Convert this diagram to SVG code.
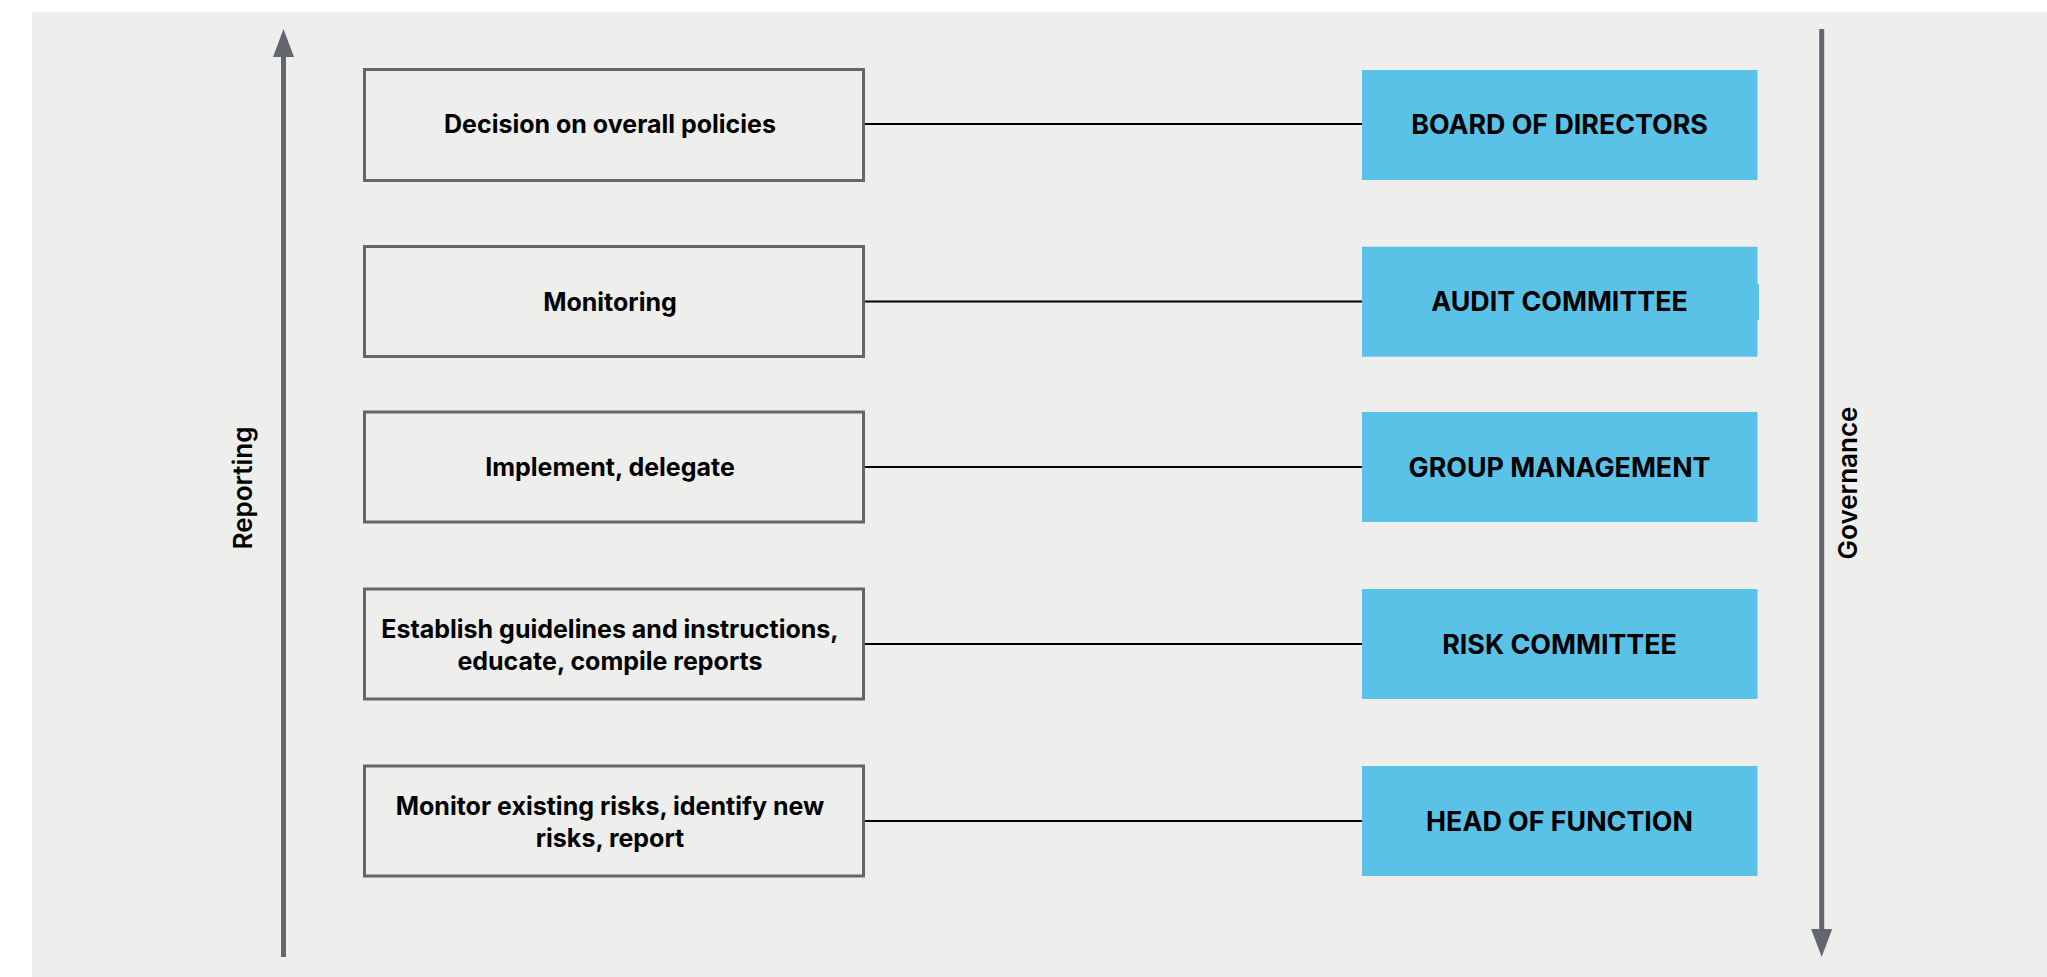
<svg xmlns="http://www.w3.org/2000/svg" width="2047" height="977" viewBox="0 0 2047 977">
<style>
.bg{fill:#eeeeec}
.lbox{fill:none;stroke:#62666d;stroke-width:3}
.rbox{fill:#5bc2e7}
.conn{stroke:#000;stroke-width:2;fill:none}
.axis{stroke:#62666d;stroke-width:5;fill:none}
.head{fill:#62666d}
.lt{font-family:Inter,"Liberation Sans",sans-serif;font-weight:700;font-size:25px;fill:#000;text-anchor:middle}
.rt{font-family:Inter,"Liberation Sans",sans-serif;font-weight:700;font-size:26.8px;fill:#000;text-anchor:middle}
.vt{font-family:Inter,"Liberation Sans",sans-serif;font-weight:600;font-size:26px;fill:#000;text-anchor:middle}
</style>
<rect class="bg" x="32" y="12" width="2015" height="965"/>

<g id="axis-reporting">
<line class="axis" x1="283.5" y1="55" x2="283.5" y2="957"/>
<polygon class="head" points="283.5,29 273,57 294,57"/>
<text class="vt" transform="translate(252,488) rotate(-90)">Reporting</text>
</g>
<g id="axis-governance">
<line class="axis" x1="1821.7" y1="29" x2="1821.7" y2="931"/>
<polygon class="head" points="1821.7,957 1811.2,929 1832.2,929"/>
<text class="vt" transform="translate(1857,483) rotate(-90)">Governance</text>
</g>

<g id="connectors">
<line class="conn" x1="865" y1="124" x2="1362" y2="124"/>
<line class="conn" x1="865" y1="301.5" x2="1362" y2="301.5"/>
<line class="conn" x1="865" y1="467" x2="1362" y2="467"/>
<line class="conn" x1="865" y1="644" x2="1362" y2="644"/>
<line class="conn" x1="865" y1="821" x2="1362" y2="821"/>
</g>

<g id="task-1">
<rect class="lbox" x="364.5" y="69.5" width="499" height="111"/>
<text class="lt" x="610" y="133">Decision on overall policies</text>
</g>
<g id="task-2">
<rect class="lbox" x="364.5" y="246.5" width="499" height="110"/>
<text class="lt" x="610" y="310.5">Monitoring</text>
</g>
<g id="task-3">
<rect class="lbox" x="364.5" y="412" width="499" height="110"/>
<text class="lt" x="610" y="476">Implement, delegate</text>
</g>
<g id="task-4">
<rect class="lbox" x="364.5" y="589" width="499" height="110"/>
<text class="lt" x="610" y="638">Establish guidelines and instructions,</text>
<text class="lt" x="610" y="669.5">educate, compile reports</text>
</g>
<g id="task-5">
<rect class="lbox" x="364.5" y="766" width="499" height="110"/>
<text class="lt" x="610" y="815">Monitor existing risks, identify new</text>
<text class="lt" x="610" y="846.5">risks, report</text>
</g>

<g id="board">
<rect class="rbox" x="1362" y="70" width="395.5" height="110"/>
<text class="rt" x="1559.5" y="134">BOARD OF DIRECTORS</text>
</g>
<g id="audit">
<rect class="rbox" x="1362" y="246.7" width="395.5" height="110"/>
<rect class="rbox" x="1757" y="284" width="2" height="36"/>
<text class="rt" x="1559.5" y="311">AUDIT COMMITTEE</text>
</g>
<g id="group-management">
<rect class="rbox" x="1362" y="412" width="395.5" height="110"/>
<text class="rt" x="1559.5" y="476.5">GROUP MANAGEMENT</text>
</g>
<g id="risk-committee">
<rect class="rbox" x="1362" y="589" width="395.5" height="110"/>
<text class="rt" x="1559.5" y="653.5">RISK COMMITTEE</text>
</g>
<g id="head-of-function">
<rect class="rbox" x="1362" y="766" width="395.5" height="110"/>
<text class="rt" x="1559.5" y="830.5">HEAD OF FUNCTION</text>
</g>
</svg>
